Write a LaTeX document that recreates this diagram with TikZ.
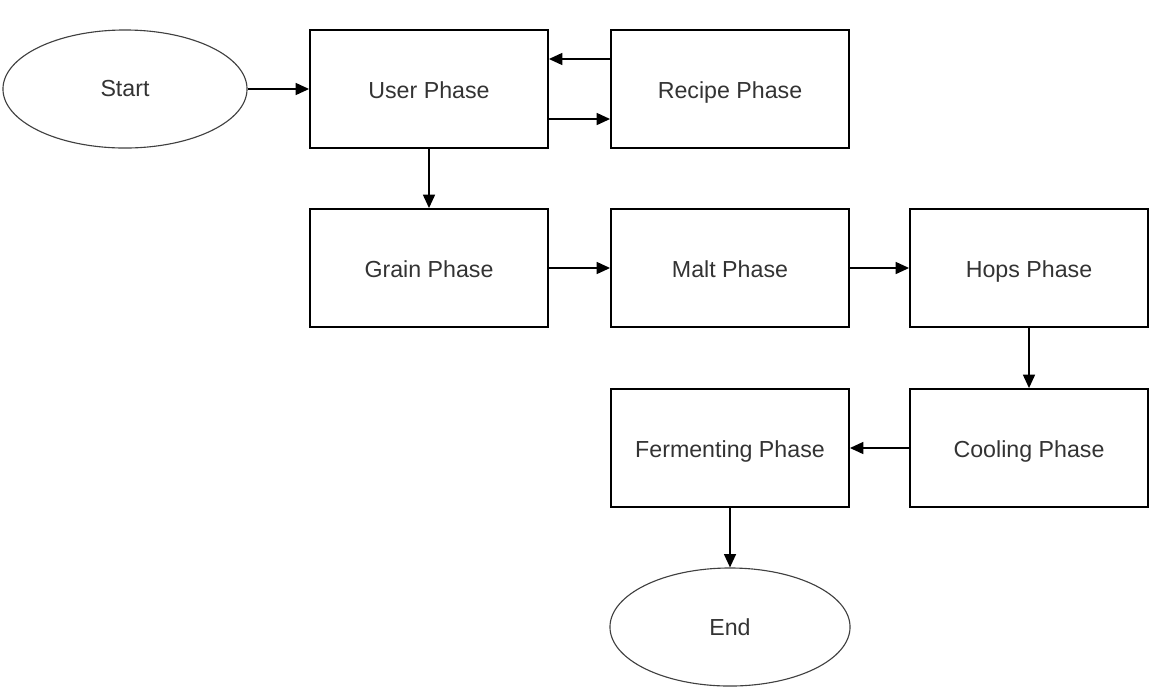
\documentclass[tikz,border=0pt]{standalone}
\usepackage{fontspec}
\setmainfont{Liberation Sans}
\usetikzlibrary{shapes.geometric,arrows.meta}
\tikzset{
  phase/.style={draw, line width=1.3pt, rectangle, align=center, minimum width=5.95cm, minimum height=2.95cm, text height=3.1ex, text depth=0.6ex, text=black!80},
  terminal/.style={draw=black!75, line width=0.8pt, ellipse, minimum width=6.1cm, minimum height=2.95cm, text=black!80},
  flow/.style={-{Triangle[length=9.5pt,width=8.5pt]}, line width=1.1pt}
}
\begin{document}
\begin{tikzpicture}[x=0.025cm, y=-0.025cm, font=\fontsize{16.5}{20}\selectfont]
\useasboundingbox (0,0) rectangle (1149,687);
\node[terminal] (s) at (125,89) {Start};
\node[phase] (u) at (429,89) {User Phase};
\node[phase] (r) at (730,89) {Recipe Phase};
\node[phase] (g) at (429,268) {Grain Phase};
\node[phase] (m) at (730,268) {Malt Phase};
\node[phase] (h) at (1029,268) {Hops Phase};
\node[phase] (c) at (1029,448) {Cooling Phase};
\node[phase] (f) at (730,448) {Fermenting Phase};
\node[terminal, minimum width=6.0cm] (e) at (730,627) {End};
\draw[flow] (s) -- (u);
\draw[flow] ([yshift=-0.75cm]u.east) -- ([yshift=-0.75cm]r.west);
\draw[flow] ([yshift=0.75cm]r.west) -- ([yshift=0.75cm]u.east);
\draw[flow] (u) -- (g);
\draw[flow] (g) -- (m);
\draw[flow] (m) -- (h);
\draw[flow] (h) -- (c);
\draw[flow] (c) -- (f);
\draw[flow] (f) -- (e);
\end{tikzpicture}
\end{document}
